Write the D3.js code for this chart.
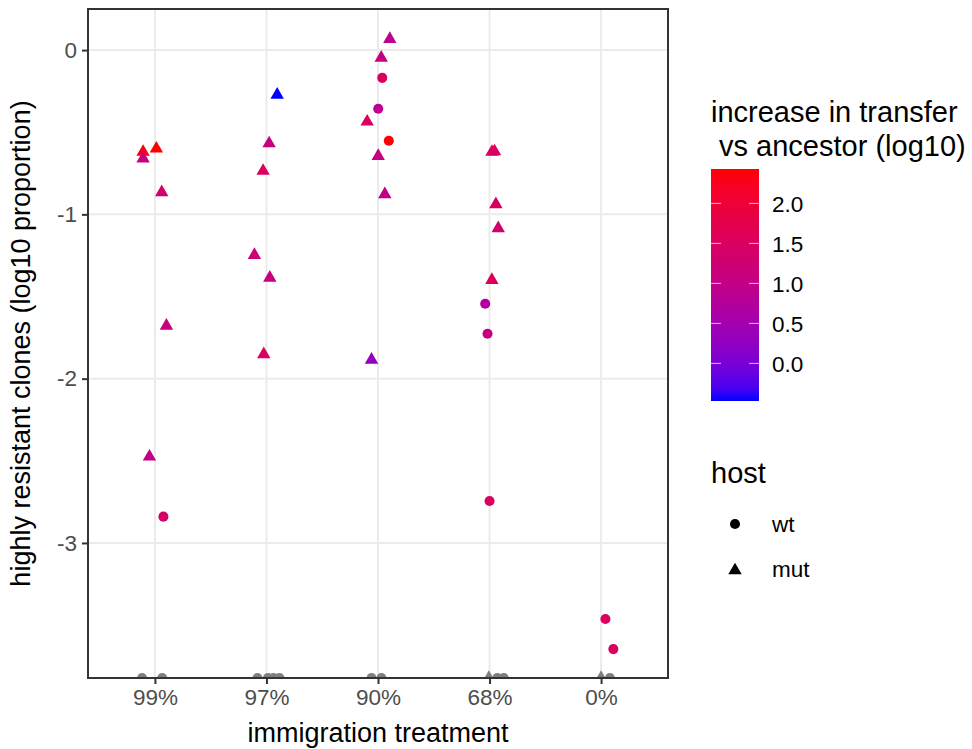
<!DOCTYPE html>
<html lang="en">
<head>
<meta charset="utf-8">
<title>Highly resistant clones</title>
<script src="https://d3js.org/d3.v7.js"></script>
<style>
  body { margin: 0; background: #fff; }
  text { font-family: "Liberation Sans", Arial, Helvetica, sans-serif; }
</style>
</head>
<body>
<div id="my_dataviz"></div>
<script>

// categories on the x axis
const treatments = ["99%", "97%", "90%", "68%", "0%"];
const yTicks = [0, -1, -2, -3];
const colorTicks = [0, 0.5, 1, 1.5, 2];
const colorRange = [-0.47, 2.43];

// one entry per point; null = missing (drawn grey at the bottom edge)
const pointTreatment = [
  "99%","99%","99%","99%","99%","99%","99%","99%","99%",
  "97%","97%","97%","97%","97%","97%","97%","97%","97%","97%",
  "90%","90%","90%","90%","90%","90%","90%","90%","90%","90%","90%",
  "68%","68%","68%","68%","68%","68%","68%","68%","68%","68%","68%",
  "0%","0%","0%","0%"
];
const pointJitter = [
  -0.106, 0.013, -0.106, 0.061, 0.103, -0.049, 0.076, -0.115, 0.065,
  0.096, 0.024, -0.030, -0.108, 0.030, -0.024, -0.081, 0.013, 0.063, 0.117,
  0.106, 0.029, 0.038, 0.002, -0.097, 0.097, 0.002, 0.061, -0.058, -0.058, 0.031,
  0.022, 0.045, 0.057, 0.078, 0.021, -0.039, -0.018, 0.000, -0.006, 0.069, 0.128,
  0.039, 0.110, 0.000, 0.079
];
const pointClones = [
  -0.62, -0.60, -0.66, -0.866, -1.678, -2.475, -2.84, null, null,
  -0.272, -0.568, -0.736, -1.248, -1.386, -1.852, null, null, null, null,
  0.067, -0.047, -0.169, -0.357, -0.436, -0.552, -0.645, -0.878, -1.885, null, null,
  -0.62, -0.617, -0.939, -1.085, -1.40, -1.544, -1.727, -2.745, null, null, null,
  -3.463, -3.646, null, null
];
const pointIncrease = [
  2.3, 2.43, 1.1, 1.35, 1.1, 1.0, 1.4, null, null,
  -0.47, 1.1, 1.5, 1.2, 1.1, 1.5, null, null, null, null,
  0.95, 1.05, 1.5, 0.9, 1.5, 2.4, 1.1, 1.0, 0.3, null, null,
  1.6, 1.5, 1.5, 1.3, 1.6, 0.7, 1.1, 1.5, null, null, null,
  1.5, 1.5, null, null
];
const pointHost = [
  "mut","mut","mut","mut","mut","mut","wt","wt","wt",
  "mut","mut","mut","mut","mut","mut","wt","wt","wt","wt",
  "mut","mut","wt","wt","mut","wt","mut","mut","mut","wt","wt",
  "mut","mut","mut","mut","mut","wt","wt","wt","mut","wt","wt",
  "wt","wt","mut","wt"
];

const hosts = ["wt", "mut"];

const data = pointTreatment.map((t, i) => ({
  treatment: t,
  jitter: pointJitter[i],
  clones: pointClones[i],
  increase: pointIncrease[i],
  host: pointHost[i]
}));

// plot area
const panel = {left: 88, top: 9, right: 668, bottom: 678};

const svg = d3.select("#my_dataviz")
  .append("svg")
    .attr("width", 972)
    .attr("height", 749);

// discrete x with ggplot style 0.6 expansion
const x = d3.scalePoint()
  .domain(treatments)
  .range([panel.left, panel.right])
  .padding(0.6);
const step = x.step();

const y = d3.scaleLinear()
  .domain([-3.822, 0.25])
  .range([panel.bottom, panel.top]);

const color = d3.scaleLinear()
  .domain(colorRange)
  .range(["blue", "red"])
  .interpolate(d3.interpolateLab);

// grid
svg.append("g")
  .selectAll("line.hgrid")
  .data(yTicks)
  .join("line")
    .attr("x1", panel.left).attr("x2", panel.right)
    .attr("y1", d => y(d)).attr("y2", d => y(d))
    .attr("stroke", "#ebebeb").attr("stroke-width", 2);
svg.append("g")
  .selectAll("line.vgrid")
  .data(treatments)
  .join("line")
    .attr("x1", d => x(d)).attr("x2", d => x(d))
    .attr("y1", panel.top).attr("y2", panel.bottom)
    .attr("stroke", "#ebebeb").attr("stroke-width", 2);

// clip to panel
svg.append("clipPath").attr("id", "clip")
  .append("rect")
    .attr("x", panel.left).attr("y", panel.top)
    .attr("width", panel.right - panel.left)
    .attr("height", panel.bottom - panel.top);

const circleSym = d3.symbol().type(d3.symbolCircle).size(80);
const triSym = d3.symbol().type(d3.symbolTriangle).size(78);

svg.append("g")
  .attr("clip-path", "url(#clip)")
  .selectAll("path")
  .data(data)
  .join("path")
    .attr("d", d => d.host === "wt" ? circleSym() : triSym())
    .attr("transform", d => {
      const px = x(d.treatment) + d.jitter * step;
      const py = d.clones === null ? panel.bottom : y(d.clones);
      return `translate(${px},${py})`;
    })
    .attr("fill", d => d.increase === null ? "#7f7f7f" : color(d.increase));

// border
svg.append("rect")
  .attr("x", panel.left).attr("y", panel.top)
  .attr("width", panel.right - panel.left)
  .attr("height", panel.bottom - panel.top)
  .attr("fill", "none")
  .attr("stroke", "#333333")
  .attr("stroke-width", 2);

// axes
const xAxis = svg.append("g")
  .attr("transform", `translate(0, ${panel.bottom})`)
  .call(d3.axisBottom(x).tickSize(6).tickPadding(5));
const yAxis = svg.append("g")
  .attr("transform", `translate(${panel.left}, 0)`)
  .call(d3.axisLeft(y).tickValues(yTicks).tickFormat(d3.format("d")).tickSize(6).tickPadding(5));
[xAxis, yAxis].forEach(a => {
  a.select(".domain").remove();
  a.selectAll(".tick line").attr("stroke", "#333333").attr("stroke-width", 2);
  a.selectAll(".tick text")
    .attr("fill", "#4d4d4d")
    .style("font-size", "22.5px")
    .style("font-family", "'Liberation Sans', Arial, sans-serif");
});
yAxis.selectAll(".tick text").text(d => d < 0 ? "-" + Math.abs(d) : d);

svg.append("text")
  .attr("x", (panel.left + panel.right) / 2)
  .attr("y", 742)
  .attr("text-anchor", "middle")
  .style("font-size", "27px")
  .text("immigration treatment");

svg.append("text")
  .attr("transform", `translate(30, ${(panel.top + panel.bottom) / 2}) rotate(-90)`)
  .attr("text-anchor", "middle")
  .style("font-size", "27px")
  .text("highly resistant clones (log10 proportion)");

// colour legend
const leg = svg.append("g");
leg.append("text")
  .attr("x", 711).attr("y", 122)
  .style("font-size", "29px")
  .text("increase in transfer");
leg.append("text")
  .attr("x", 711).attr("y", 156)
  .attr("xml:space", "preserve")
  .style("white-space", "pre")
  .style("font-size", "29px")
  .text(" vs ancestor (log10)");

const bar = {x: 711, y: 169, w: 48, h: 232};
const cbar = d3.scaleLinear().domain(colorRange).range([bar.y + bar.h, bar.y]);

const grad = svg.append("defs").append("linearGradient")
  .attr("id", "cgrad")
  .attr("x1", 0).attr("y1", 1).attr("x2", 0).attr("y2", 0);
d3.range(0, 1.0001, 0.05).forEach(t => {
  grad.append("stop")
    .attr("offset", t)
    .attr("stop-color", color(colorRange[0] + t * (colorRange[1] - colorRange[0])));
});
leg.append("rect")
  .attr("x", bar.x).attr("y", bar.y)
  .attr("width", bar.w).attr("height", bar.h)
  .attr("fill", "url(#cgrad)");

colorTicks.forEach(v => {
  leg.append("line")
    .attr("x1", bar.x).attr("x2", bar.x + 10)
    .attr("y1", cbar(v)).attr("y2", cbar(v))
    .attr("stroke", "#fff").attr("stroke-opacity", 0.7).attr("stroke-width", 1);
  leg.append("line")
    .attr("x1", bar.x + bar.w - 10).attr("x2", bar.x + bar.w)
    .attr("y1", cbar(v)).attr("y2", cbar(v))
    .attr("stroke", "#fff").attr("stroke-opacity", 0.7).attr("stroke-width", 1);
  leg.append("text")
    .attr("x", 772).attr("y", cbar(v))
    .attr("dy", "0.36em")
    .style("font-size", "22.5px")
    .text(d3.format(".1f")(v));
});

// shape legend
leg.append("text")
  .attr("x", 711).attr("y", 483)
  .style("font-size", "29px")
  .text("host");
const hostY = d3.scalePoint().domain(hosts).range([524, 569]);
hosts.forEach(h => {
  leg.append("path")
    .attr("d", h === "wt" ? circleSym() : triSym())
    .attr("transform", `translate(735, ${hostY(h) + (h === "mut" ? 1.5 : 0)})`)
    .attr("fill", "#000");
  leg.append("text")
    .attr("x", 772).attr("y", hostY(h))
    .attr("dy", "0.36em")
    .style("font-size", "22.5px")
    .text(h);
});

</script>
</body>
</html>
